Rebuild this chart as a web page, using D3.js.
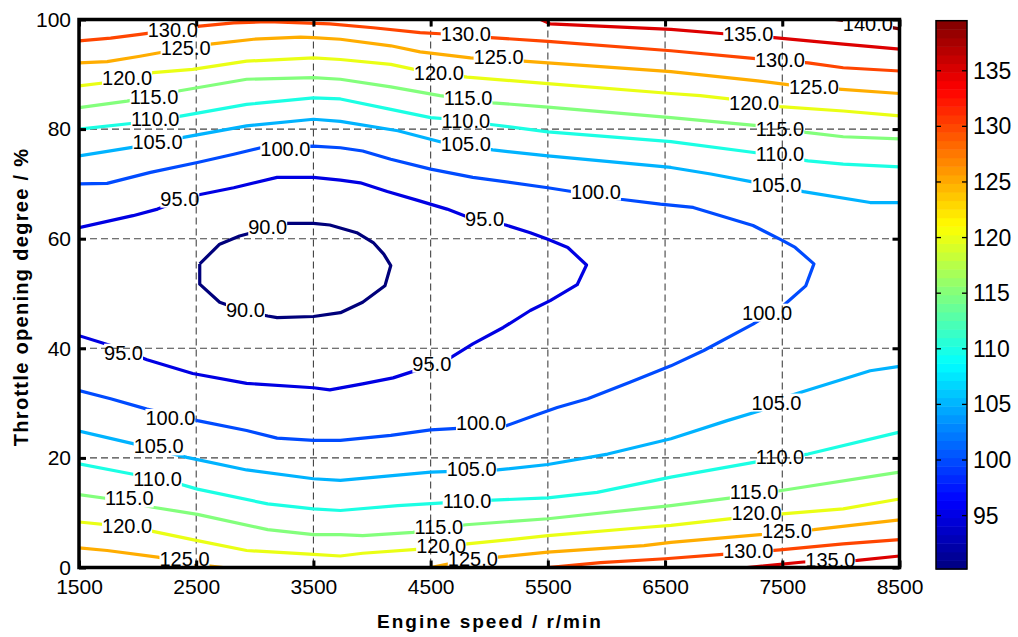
<!DOCTYPE html>
<html lang='en'>
<head>
<meta charset=utf-8>
<title>Throttle / speed contour map</title>
<script src="https://cdn.jsdelivr.net/npm/d3@7"></script>
<style>
	body { margin: 0; background: white; }
	svg text { font-family: "Liberation Sans", Arial, sans-serif; fill: black; }
	.grid line { stroke: #444; stroke-width: 1.1; stroke-dasharray: 7,4; }
	.clab { font-size: 20px; }
	.axis text { font-size: 21px; }
	.axis line { stroke: black; stroke-width: 3; }
	.axis path { display: none; }
	.atitle { font-size: 19px; font-weight: bold; }
	.cbl { font-size: 23px; }
</style>
</head>
<body>
<svg id='chart' width="1018" height="637"></svg>
<script>
	// axis ticks
	const xTicks = [1500, 2500, 3500, 4500, 5500, 6500, 7500, 8500];
	const yTicks = [0, 20, 40, 60, 80, 100];
	const cbTicks = [95, 100, 105, 110, 115, 120, 125, 130, 135];
	const cbRange = [90.2, 139.5];
	const levels = [90, 95, 100, 105, 110, 115, 120, 125, 130, 135, 140];

	// contour lines, [rpm, %], one array per level
	const contour90 = [
		[[2530,55.4],[2530,51.7],[2700,48.4],[2910,46.8],[3110,45.9],[3190,45.6],[3500,45.8],[3730,46.5],[3920,48.4],[4110,51.4],[4160,55.1],[4100,57.2],[4010,59.3],[3870,61.1],[3640,62.5],[3500,62.8],[3280,62.8],[2870,60.5],[2700,59.0],[2530,55.4]]
	];
	const contour95 = [
		[[1500,62.0],[1960,64.2],[2170,65.4],[2470,67.8],[2820,69.3],[3190,71.2],[3500,71.2],[3730,70.7],[3900,70.2],[4130,68.6],[4390,67.0],[4640,65.4],[4810,64.0],[5140,62.5],[5350,61.1],[5500,59.9],[5670,58.4],[5830,55.2],[5750,51.6],[5520,48.7],[5350,46.9],[5120,43.8],[4860,40.8],[4640,37.9],[4410,36.2],[4180,34.6],[3920,33.5],[3640,32.4],[3500,32.8],[2930,33.6],[2470,35.4],[2080,37.9],[1770,40.5],[1500,42.3]]
	];
	const contour100 = [
		[[1500,70.0],[1740,70.1],[2110,72.1],[2510,73.9],[2820,75.4],[3050,76.6],[3500,76.9],[3730,76.6],[3920,76.0],[4160,74.5],[4500,72.7],[4860,71.2],[5500,69.3],[6120,67.2],[6460,66.3],[6740,65.7],[7250,62.4],[7500,59.7],[7610,58.4],[7770,55.4],[7700,51.4],[7510,47.8],[7250,44.4],[6830,39.6],[6550,36.8],[6200,33.8],[5840,30.8],[5580,29.2],[5380,27.7],[5150,25.9],[4500,25.1],[4160,24.1],[3730,23.2],[3500,23.2],[3190,23.6],[2930,25.0],[2510,26.8],[2080,28.9],[1770,30.8],[1500,32.3]]
	];
	const contour105 = [
		[[1500,75.1],[2020,76.9],[2390,78.5],[2930,80.6],[3500,81.8],[3730,81.4],[4220,79.7],[4580,77.7],[5030,76.2],[5500,75.1],[6550,73.0],[6890,71.8],[7290,70.2],[7680,68.6],[8250,66.6],[8500,66.6]],
		[[1500,24.9],[1960,22.6],[2420,20.1],[2930,17.8],[3500,16.2],[3730,15.9],[4500,17.4],[5070,17.8],[5500,18.8],[6010,20.7],[6550,23.5],[7030,26.8],[7310,28.6],[7570,31.4],[8250,35.9],[8500,36.7]]
	];
	const contour110 = [
		[[1500,80.0],[2020,81.2],[2380,82.4],[2930,84.5],[3500,85.7],[3730,85.5],[4160,83.6],[4500,82.1],[4680,81.8],[5030,80.8],[5500,79.5],[6550,77.7],[7340,75.5],[7720,74.2],[8020,73.6],[8500,73.1]],
		[[1500,18.9],[1940,17.1],[2300,15.6],[2510,14.3],[3110,11.6],[3500,10.7],[3730,10.4],[4220,11.3],[4680,11.9],[5030,12.3],[5500,12.7],[5920,13.7],[6550,16.5],[7340,19.5],[7720,20.7],[8500,24.7]]
	];
	const contour115 = [
		[[1500,83.9],[1910,85.1],[2360,87.0],[2930,89.1],[3500,89.4],[3730,89.1],[4160,87.7],[4580,86.1],[5030,84.8],[5500,84.0],[6550,82.1],[7310,80.6],[7700,79.4],[8020,78.6],[8500,78.2]],
		[[1500,13.3],[1770,12.5],[2130,11.0],[2510,9.7],[3110,6.9],[3500,6.0],[3730,6.0],[3920,5.8],[4350,6.4],[4800,7.8],[5500,8.9],[6550,11.3],[7130,12.9],[7480,14.0],[8500,17.4]]
	];
	const contour120 = [
		[[1500,87.9],[1740,88.5],[2130,90.3],[2470,90.9],[2930,92.4],[3500,93.0],[3730,92.7],[4160,91.8],[4450,90.5],[4810,89.5],[5500,88.3],[6550,86.5],[6800,86.1],[7140,85.3],[7480,84.1],[8020,83.3],[8500,82.4]],
		[[1500,8.3],[1790,7.7],[2130,6.6],[2510,4.9],[2930,3.1],[3500,2.4],[3730,2.1],[3920,2.6],[4440,3.4],[4810,4.3],[5500,5.8],[6320,7.3],[6550,7.7],[7140,9.1],[7500,9.8],[8020,10.7],[8500,12.5]]
	];
	const contour125 = [
		[[1500,92.1],[1740,92.3],[2020,93.3],[2280,94.3],[2620,95.5],[2990,96.4],[3390,96.8],[3500,96.7],[3730,96.4],[4160,95.2],[4410,94.1],[4840,93.0],[5290,92.4],[5500,92.1],[6550,90.5],[7290,88.8],[7630,87.9],[7980,87.3],[8500,86.5]],
		[[1500,3.6],[1740,3.1],[2170,1.9],[2530,0.5],[2730,0]],
		[[4500,0],[4730,1.0],[5070,1.9],[5500,2.8],[6320,4.0],[6550,4.6],[7310,6.0],[7770,6.9],[8500,8.7]]
	];
	const contour130 = [
		[[1500,96.1],[1770,96.6],[2020,97.3],[2530,98.8],[2820,99.4],[3110,99.6],[3640,99.2],[4010,98.5],[4410,97.6],[4580,97.4],[5010,96.7],[5500,96.0],[6550,94.3],[7250,92.9],[7720,92.1],[8020,91.2],[8500,90.6]],
		[[5500,0],[5950,0.9],[6500,1.6],[6990,2.4],[7480,3.2],[8020,4.3],[8500,5.1]]
	];
	const contour135 = [
		[[5440,100],[5520,99.2],[6550,98.2],[7000,97.4],[7430,96.7],[8020,95.5],[8500,94.6]],
		[[7200,0],[7680,1.0],[8140,1.3],[8500,2.1]]
	];
	const contour140 = [
		[[7950,100],[8250,99.2],[8500,98.3]]
	];
	const contourSets = [contour90, contour95, contour100, contour105, contour110, contour115,
		contour120, contour125, contour130, contour135, contour140];

	// inline labels: [level, rpm, %]
	const labelPos = [
		[130,2300,98.1],[125,2410,94.8],[120,1910,89.3],[115,2140,85.9],[110,2150,81.9],[105,2170,77.7],
		[100,3260,76.4],[95,2360,67.3],[90,3110,62.2],[90,2920,47.0],[95,1880,39.2],[95,4960,63.6],
		[95,4510,37.2],[100,7370,46.5],[100,5910,68.6],[100,2280,27.3],[100,4930,26.3],
		[130,4800,97.4],[125,5080,93.2],[120,4570,90.2],[115,4820,85.7],[110,4800,81.5],[105,4800,77.3],
		[135,7210,97.4],[130,7480,92.6],[125,7770,87.7],[120,7260,84.8],[115,7480,80.0],[110,7480,75.5],
		[105,7450,69.8],[140,8230,99.2],
		[105,2180,22.1],[110,2170,16.2],[115,1930,12.6],[120,1910,7.5],[125,2400,1.5],
		[105,4850,18.0],[110,4810,12.2],[115,4570,7.3],[120,4590,4.0],[125,4860,1.5],
		[105,7450,30.1],[110,7480,20.1],[115,7260,13.7],[120,7280,10.0],[125,7540,6.6],[130,7210,3.1],[135,7910,1.3]
	];

	const svg = d3.select('#chart');
	const x = d3.scaleLinear().domain([1500, 8500]).range([79, 899.5]);
	const y = d3.scaleLinear().domain([0, 100]).range([567.5, 19.5]);
	const cb = d3.scaleLinear().domain(cbRange).range([569, 20.7]);

	// matlab jet
	function jet(v) {
		const t = (v - cbRange[0]) / (cbRange[1] - cbRange[0]);
		const c = k => Math.round(255 * Math.max(0, Math.min(1, 1.5 - Math.abs(4 * t - k))));
		return 'rgb(' + c(3) + ',' + c(2) + ',' + c(1) + ')';
	}

	const defs = svg.append('defs');
	defs.append('clipPath').attr('id', 'plotclip').append('rect')
		.attr('x', x(1500)).attr('y', y(100)).attr('width', x(8500) - x(1500)).attr('height', y(0) - y(100));

	const gGrid = svg.append('g').attr('class', 'grid');
	const gLines = svg.append('g').attr('clip-path', 'url(#plotclip)');
	const gLab = svg.append('g').attr('clip-path', 'url(#plotclip)');

	// grid
	gGrid.selectAll('.vx').data(xTicks.slice(1, -1)).join('line')
		.attr('x1', d => x(d)).attr('x2', d => x(d)).attr('y1', y(100)).attr('y2', y(0));
	gGrid.selectAll('.hy').data(yTicks.slice(1, -1)).join('line')
		.attr('x1', x(1500)).attr('x2', x(8500)).attr('y1', d => y(d)).attr('y2', d => y(d));

	// labels first, so the masks can use their boxes
	const labs = gLab.selectAll('text').data(labelPos).join('text')
		.attr('class', 'clab')
		.attr('x', d => x(d[1])).attr('y', d => y(d[2]))
		.attr('dy', '0.35em').attr('text-anchor', 'middle')
		.text(d => d[0].toFixed(1));

	levels.forEach(lv => {
		const m = defs.append('mask').attr('id', 'mk' + lv)
			.attr('maskUnits', 'userSpaceOnUse').attr('x', 0).attr('y', 0).attr('width', 1018).attr('height', 637);
		m.append('rect').attr('width', 1018).attr('height', 637).attr('fill', 'white');
		labs.filter(d => d[0] === lv).each(function() {
			const b = this.getBBox();
			m.append('rect').attr('x', b.x).attr('y', b.y + 2).attr('width', b.width).attr('height', b.height - 4).attr('fill', 'black');
		});
	});

	const line = d3.line().x(d => x(d[0])).y(d => y(d[1]));
	levels.forEach((lv, i) => {
		gLines.append('g').attr('mask', 'url(#mk' + lv + ')')
			.selectAll('path').data(contourSets[i]).join('path')
			.attr('d', line)
			.attr('fill', 'none')
			.attr('stroke', jet(lv))
			.attr('stroke-width', 3.2)
			.attr('stroke-linejoin', 'round');
	});

	// axes, ticks inward on all four sides
	svg.append('g').attr('class', 'axis').attr('transform', 'translate(0,' + y(0) + ')')
		.call(d3.axisBottom(x).tickValues(xTicks).tickFormat(d3.format('d')).tickSizeInner(-7).tickSizeOuter(0).tickPadding(12));
	svg.append('g').attr('class', 'axis').attr('transform', 'translate(0,' + y(100) + ')')
		.call(d3.axisTop(x).tickValues(xTicks).tickFormat('').tickSizeInner(-7).tickSizeOuter(0));
	svg.append('g').attr('class', 'axis').attr('transform', 'translate(' + x(1500) + ',0)')
		.call(d3.axisLeft(y).tickValues(yTicks).tickSizeInner(-7).tickSizeOuter(0).tickPadding(8));
	svg.append('g').attr('class', 'axis').attr('transform', 'translate(' + x(8500) + ',0)')
		.call(d3.axisRight(y).tickValues(yTicks).tickFormat('').tickSizeInner(-7).tickSizeOuter(0));
	svg.selectAll('.axis text').attr('font-family', null);

	svg.append('rect')
		.attr('x', x(1500)).attr('y', y(100)).attr('width', x(8500) - x(1500)).attr('height', y(0) - y(100))
		.attr('fill', 'none').attr('stroke', 'black').attr('stroke-width', 3.5);

	// axis titles
	svg.append('text').attr('class', 'atitle')
		.attr('x', 490).attr('y', 628).attr('text-anchor', 'middle').attr('letter-spacing', '2px')
		.text('Engine speed / r/min');
	svg.append('text').attr('class', 'atitle')
		.attr('transform', 'translate(28,297) rotate(-90)').attr('text-anchor', 'middle').attr('letter-spacing', '1.3px')
		.style('font-size', '20px')
		.text('Throttle opening degree / %');

	// colorbar, 64 steps like jet(64)
	const cbx0 = 936, cbx1 = 967;
	const steps = d3.range(64);
	const stepV = (cbRange[1] - cbRange[0]) / 64;
	svg.append('g').selectAll('rect').data(steps).join('rect')
		.attr('x', cbx0).attr('width', cbx1 - cbx0)
		.attr('y', i => cb(cbRange[0] + (i + 1) * stepV))
		.attr('height', i => cb(cbRange[0] + i * stepV) - cb(cbRange[0] + (i + 1) * stepV) + 0.5)
		.attr('fill', i => jet(cbRange[0] + (i + 0.5) * stepV));
	svg.append('rect').attr('x', cbx0).attr('y', cb(cbRange[1])).attr('width', cbx1 - cbx0)
		.attr('height', cb(cbRange[0]) - cb(cbRange[1]))
		.attr('fill', 'none').attr('stroke', 'black').attr('stroke-width', 1.5);
	const cbt = svg.append('g');
	cbt.selectAll('.l').data(cbTicks).join('line')
		.attr('x1', cbx0).attr('x2', cbx0 + 5).attr('y1', d => cb(d)).attr('y2', d => cb(d))
		.attr('stroke', 'black').attr('stroke-width', 1.3);
	cbt.selectAll('.r').data(cbTicks).join('line')
		.attr('x1', cbx1 - 5).attr('x2', cbx1).attr('y1', d => cb(d)).attr('y2', d => cb(d))
		.attr('stroke', 'black').attr('stroke-width', 1.3);
	cbt.selectAll('text').data(cbTicks).join('text')
		.attr('class', 'cbl')
		.attr('x', 973).attr('y', d => cb(d)).attr('dy', '0.35em')
		.text(d => d);
</script>
</body>
</html>
